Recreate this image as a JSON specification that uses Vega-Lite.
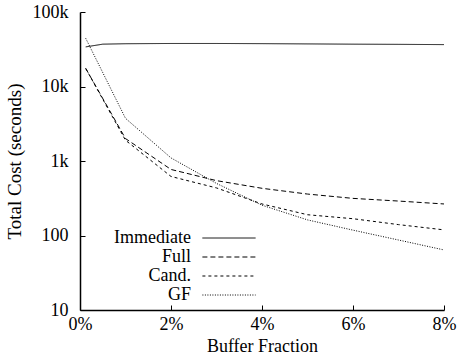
{
  "$schema": "https://vega.github.io/schema/vega-lite/v6.json",
  "width": 364,
  "height": 298,
  "autosize": "none",
  "padding": {"left": 80, "top": 12, "right": 14, "bottom": 48},
  "background": "white",
  "config": {
    "view": {"stroke": null},
    "font": "Liberation Serif"
  },
  "data": {
    "values": [
      {"series": "Immediate", "x": 0.125, "y": 34000},
      {"series": "Immediate", "x": 0.5, "y": 37000},
      {"series": "Immediate", "x": 1, "y": 37500},
      {"series": "Immediate", "x": 2, "y": 37800},
      {"series": "Immediate", "x": 3, "y": 37800},
      {"series": "Immediate", "x": 4, "y": 37600},
      {"series": "Immediate", "x": 5, "y": 37300},
      {"series": "Immediate", "x": 6, "y": 37000},
      {"series": "Immediate", "x": 7, "y": 36800},
      {"series": "Immediate", "x": 8, "y": 36500},
      {"series": "Full", "x": 0.125, "y": 17500},
      {"series": "Full", "x": 1, "y": 2000},
      {"series": "Full", "x": 2, "y": 770},
      {"series": "Full", "x": 3, "y": 545},
      {"series": "Full", "x": 4, "y": 430},
      {"series": "Full", "x": 5, "y": 360},
      {"series": "Full", "x": 6, "y": 315},
      {"series": "Full", "x": 7, "y": 290},
      {"series": "Full", "x": 8, "y": 265},
      {"series": "Cand.", "x": 0.125, "y": 17500},
      {"series": "Cand.", "x": 1, "y": 1900},
      {"series": "Cand.", "x": 2, "y": 620},
      {"series": "Cand.", "x": 3, "y": 435},
      {"series": "Cand.", "x": 4, "y": 265},
      {"series": "Cand.", "x": 5, "y": 190},
      {"series": "Cand.", "x": 6, "y": 168},
      {"series": "Cand.", "x": 7, "y": 140},
      {"series": "Cand.", "x": 8, "y": 119},
      {"series": "GF", "x": 0.125, "y": 44400},
      {"series": "GF", "x": 1, "y": 3740},
      {"series": "GF", "x": 2, "y": 1100},
      {"series": "GF", "x": 3, "y": 500},
      {"series": "GF", "x": 4, "y": 255},
      {"series": "GF", "x": 5, "y": 162},
      {"series": "GF", "x": 6, "y": 118},
      {"series": "GF", "x": 7, "y": 87},
      {"series": "GF", "x": 8, "y": 64}
    ]
  },
  "mark": {"type": "line", "color": "black", "strokeWidth": 1, "clip": true},
  "encoding": {
    "x": {
      "field": "x", "type": "quantitative",
      "scale": {"domain": [0, 8], "nice": false, "zero": false},
      "axis": {
        "values": [0, 2, 4, 6, 8],
        "labelExpr": "datum.value + '%'",
        "title": "Buffer Fraction",
        "grid": false,
        "labelFlush": false,
        "domainColor": "black", "domainWidth": 1.5,
        "tickColor": "black", "tickSize": -5, "tickWidth": 1,
        "labelPadding": 10,
        "labelFont": "Liberation Serif", "labelFontSize": 18, "labelColor": "black",
        "titleFont": "Liberation Serif", "titleFontSize": 18, "titleFontWeight": "normal", "titleColor": "black",
        "titlePadding": 4
      }
    },
    "y": {
      "field": "y", "type": "quantitative",
      "scale": {"type": "log", "domain": [10, 100000], "nice": false},
      "axis": {
        "values": [10, 100, 1000, 10000, 100000],
        "labelExpr": "datum.value >= 1000 ? format(datum.value / 1000, 'd') + 'k' : format(datum.value, 'd')",
        "title": "Total Cost (seconds)",
        "grid": false,
        "labelFlush": false,
        "domainColor": "black", "domainWidth": 1.5,
        "tickColor": "black", "tickSize": -5, "tickWidth": 1,
        "labelPadding": 17,
        "labelFont": "Liberation Serif", "labelFontSize": 18, "labelColor": "black",
        "titleFont": "Liberation Serif", "titleFontSize": 19, "titleFontWeight": "normal", "titleColor": "black",
        "titlePadding": 8
      }
    },
    "strokeDash": {
      "field": "series", "type": "nominal",
      "scale": {
        "domain": ["Immediate", "Full", "Cand.", "GF"],
        "range": [[1, 0], [5, 3], [3, 3], [1, 1.5]]
      },
      "legend": {
        "title": null,
        "orient": "none",
        "legendX": 139,
        "legendY": 216,
        "padding": 0,
        "symbolType": "M-2.8,0H2.8",
        "symbolSize": 361,
        "symbolStrokeColor": "black",
        "symbolFillColor": "transparent",
        "symbolStrokeWidth": 1,
        "symbolOpacity": 1,
        "labelAlign": "right",
        "labelOffset": -48,
        "labelFont": "Liberation Serif",
        "labelFontSize": 18,
        "labelColor": "black",
        "labelLimit": 0,
        "rowPadding": 0
      }
    }
  }
}
